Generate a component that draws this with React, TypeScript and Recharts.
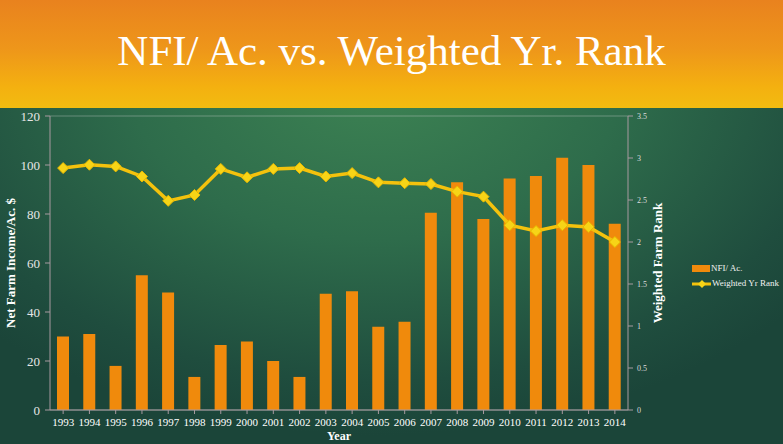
import React from "react";
import {
  ComposedChart,
  Bar,
  Line,
  XAxis,
  YAxis,
  CartesianGrid,
} from "recharts";

const years = [
  "1993", "1994", "1995", "1996", "1997", "1998", "1999", "2000", "2001", "2002", "2003",
  "2004", "2005", "2006", "2007", "2008", "2009", "2010", "2011", "2012", "2013", "2014",
];
const nfiPerAcre = [
  30, 31, 18, 55, 48, 13.5, 26.5, 28, 20, 13.5, 47.5,
  48.5, 34, 36, 80.5, 93, 78, 94.5, 95.5, 103, 100, 76,
];
const weightedRank = [
  2.88, 2.92, 2.9, 2.78, 2.49, 2.56, 2.87, 2.77, 2.87, 2.88, 2.78,
  2.82, 2.71, 2.7, 2.69, 2.6, 2.54, 2.2, 2.13, 2.2, 2.18, 2.0,
];
const leftTicks = [0, 20, 40, 60, 80, 100, 120];
const rightTicks = [0, 0.5, 1, 1.5, 2, 2.5, 3, 3.5];

const data = years.map((y, i) => ({ year: y, nfi: nfiPerAcre[i], rank: weightedRank[i] }));

const SERIF = "'Liberation Serif', 'DejaVu Serif', serif";
const BAR = "#f08a0c";
const LINE = "#f4c20d";

const Diamond = (props: any) => {
  const { cx, cy } = props;
  if (cx == null || cy == null) return null;
  const s = 5.5;
  return (
    <polygon
      points={`${cx},${cy - s} ${cx + s},${cy} ${cx},${cy + s} ${cx - s},${cy}`}
      fill="#f7d417"
      stroke="#e8b800"
      strokeWidth={1}
    />
  );
};

const LegendBox = () => (
  <div
    style={{
      position: "absolute",
      left: 692,
      top: 261,
      fontFamily: SERIF,
      fontSize: 9,
      color: "#f2f2f2",
      lineHeight: "15px",
    }}
  >
    <div style={{ display: "flex", alignItems: "center" }}>
      <span style={{ display: "inline-block", width: 18, height: 7, background: BAR, marginRight: 1 }} />
      <span>NFI/ Ac.</span>
    </div>
    <div style={{ display: "flex", alignItems: "center" }}>
      <svg width={19} height={10} style={{ marginRight: 1 }}>
        <line x1={0} y1={5} x2={19} y2={5} stroke={LINE} strokeWidth={3} />
        <polygon points="10,1 14,5 10,9 6,5" fill="#f7d417" />
      </svg>
      <span>Weighted Yr Rank</span>
    </div>
  </div>
);

export default function App() {
  return (
    <div
      style={{
        position: "absolute",
        left: 0,
        top: 0,
        width: 783,
        height: 444,
        overflow: "hidden",
        background:
          "radial-gradient(ellipse 70% 80% at 48% 18%, #3d8353 0%, #2e6c4b 45%, #1f4d3e 85%, #1b4539 100%)",
      }}
    >
      <div
        style={{
          position: "absolute",
          left: 0,
          top: 0,
          width: 783,
          height: 108,
          background: "linear-gradient(180deg, #e9821e 0%, #ee961a 45%, #f4b010 80%, #f2bc10 100%)",
        }}
      />
      <div
        style={{
          position: "absolute",
          left: 0,
          top: 26,
          width: 783,
          textAlign: "center",
          fontFamily: SERIF,
          fontSize: 43,
          color: "#ffffff",
          lineHeight: "50px",
        }}
      >
        NFI/ Ac. vs. Weighted Yr. Rank
      </div>
      <div style={{ position: "absolute", left: 0, top: 0 }}>
        <ComposedChart
          width={783}
          height={444}
          data={data}
          margin={{ top: 116, right: 125, bottom: 4, left: 0 }}
        >
          <CartesianGrid
            vertical={false}
            stroke="rgba(220,220,220,0.35)"
            strokeWidth={1}
          />
          <XAxis
            dataKey="year"
            interval={0}
            tick={{ fill: "#ffffff", fontSize: 11, fontFamily: SERIF }}
            stroke="#a89aa0"
            tickLine={{ stroke: "#a89aa0" }}
            tickSize={4}
            tickMargin={4}
            label={({ viewBox }: any) => (
              <text
                x={viewBox.x + viewBox.width / 2}
                y={viewBox.y + 30}
                textAnchor="middle"
                fill="#ffffff"
                fontFamily={SERIF}
                fontWeight="bold"
                fontSize={12}
              >
                Year
              </text>
            )}
          />
          <YAxis
            yAxisId="left"
            domain={[0, 120]}
            ticks={leftTicks}
            width={50}
            stroke="#a89aa0"
            tickSize={5}
            tickMargin={5}
            tick={{ fill: "#e6e6e6", fontSize: 13, fontFamily: SERIF }}
            label={({ viewBox }: any) => (
              <text
                x={0}
                y={0}
                transform={`translate(${viewBox.x + 10}, ${viewBox.y + viewBox.height / 2}) rotate(-90)`}
                textAnchor="middle"
                dominantBaseline="central"
                fill="#ffffff"
                fontFamily={SERIF}
                fontWeight="bold"
                fontSize={13}
              >
                Net Farm Income/Ac. $
              </text>
            )}
          />
          <YAxis
            yAxisId="right"
            orientation="right"
            domain={[0, 3.5]}
            ticks={rightTicks}
            width={30}
            stroke="#a89aa0"
            tickSize={5}
            tickMargin={4}
            tick={{ fill: "#dcdcdc", fontSize: 8, fontFamily: SERIF }}
            label={({ viewBox }: any) => (
              <text
                x={0}
                y={0}
                transform={`translate(${viewBox.x + 29}, ${viewBox.y + viewBox.height / 2}) rotate(-90)`}
                textAnchor="middle"
                dominantBaseline="central"
                fill="#ffffff"
                fontFamily={SERIF}
                fontWeight="bold"
                fontSize={13}
              >
                Weighted Farm Rank
              </text>
            )}
          />
          <Bar
            yAxisId="left"
            dataKey="nfi"
            name="NFI/ Ac."
            fill={BAR}
            barSize={12}
            isAnimationActive={false}
          />
          <Line
            yAxisId="right"
            dataKey="rank"
            name="Weighted Yr Rank"
            stroke={LINE}
            strokeWidth={3.5}
            dot={<Diamond />}
            activeDot={false}
            isAnimationActive={false}
          />
        </ComposedChart>
      </div>
      <LegendBox />
    </div>
  );
}
